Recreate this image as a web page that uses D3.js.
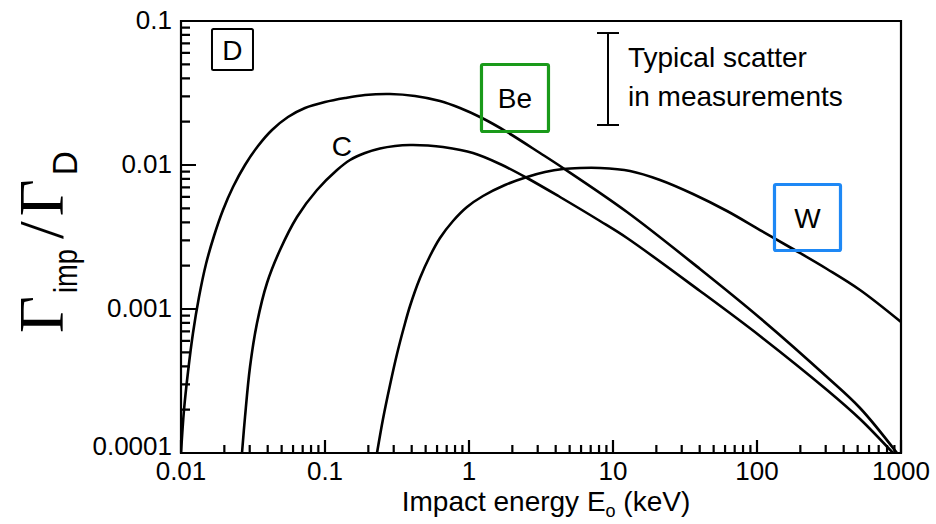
<!DOCTYPE html>
<html><head><meta charset="utf-8">
<script src="https://cdn.jsdelivr.net/npm/d3@7"></script>
<style>body{margin:0;background:#fff}svg{display:block}</style>
</head><body><svg id="c" width="936" height="524"></svg>
<script>
// Impact energy (keV) and yield Γimp/ΓD for each target
const beEnergy = [0.01, 0.010492, 0.011184, 0.012115, 0.013335, 0.014914, 0.016949, 0.019574, 0.022967, 0.027826, 0.034253, 0.04285, 0.055339, 0.07263, 0.1, 0.13768, 0.18957, 0.28274, 0.4217, 0.6289, 0.866, 1.231, 1.836, 3.112, 4.496, 12.51, 40.2, 104.9, 306.3, 519.2, 938];
const beYield  = [1e-4, 1.9888e-4, 3.6517e-4, 6.8129e-4, 1.2115e-3, 2.0535e-3, 3.2132e-3, 4.8697e-3, 7.0346e-3, 0.01, 0.01355, 0.0175, 0.021544, 0.02488, 0.027384, 0.029193, 0.030627, 0.031121, 0.030142, 0.027826, 0.02488, 0.021202, 0.016949, 0.012115, 9.5316e-3, 4.7163e-3, 1.8957e-3, 8.66e-4, 3.3713e-4, 2.0535e-4, 1e-4];
const cEnergy  = [0.02652, 0.02783, 0.03014, 0.03372, 0.03956, 0.0487, 0.06391, 0.08799, 0.1212, 0.1492, 0.18957, 0.24095, 0.30627, 0.3894, 0.51914, 0.6598, 1.066, 1.642, 2.528, 4.284, 8.124, 12.51, 40.2, 104.9, 306.3, 519.2, 880];
const cYield   = [1e-4, 1.778e-4, 3.956e-4, 7.99e-4, 1.516e-3, 2.569e-3, 4.354e-3, 6.706e-3, 9.23e-3, 0.010833, 0.012115, 0.013019, 0.01355, 0.013768, 0.013659, 0.013335, 0.012115, 0.010161, 8.123e-3, 5.995e-3, 4.0843e-3, 3.1121e-3, 1.334e-3, 6.494e-4, 2.738e-4, 1.722e-4, 1e-4];
const wEnergy  = [0.2297, 0.2528, 0.2828, 0.3162, 0.35367, 0.3894, 0.4568, 0.5358, 0.6289, 0.7743, 0.96853, 1.251, 1.778, 2.528, 3.371, 4.496, 5.9, 8.124, 13.12, 21.21, 35.94, 61.89, 104.9, 177.8, 306.3, 519.2, 1000];
const wYield   = [1e-4, 1.7222e-4, 2.9664e-4, 4.8697e-4, 7.4989e-4, 1.0492e-3, 1.6416e-3, 2.3337e-3, 3.1121e-3, 4.0843e-3, 5.1087e-3, 6.0917e-3, 7.263e-3, 8.254e-3, 8.9404e-3, 9.3806e-3, 9.5316e-3, 9.5316e-3, 9.0844e-3, 7.868e-3, 6.2892e-3, 4.7925e-3, 3.5367e-3, 2.6102e-3, 1.8957e-3, 1.355e-3, 8.123e-4];

const xTickValues = [0.01, 0.1, 1, 10, 100, 1000];
const xTickLabels = ["0.01", "0.1", "1", "10", "100", "1000"];
const yTickValues = [0.0001, 0.001, 0.01, 0.1];
const yTickLabels = ["0.0001", "0.001", "0.01", "0.1"];

const svg = d3.select("#c");
const L = 181, R = 901, T = 21, B = 453;
const x = d3.scaleLog().domain([0.01, 1000]).range([L, R]);
const y = d3.scaleLog().domain([0.0001, 0.1]).range([B, T]);
const SANS = "'Liberation Sans', Arial, Helvetica, sans-serif";
const SERIF = "'Liberation Serif', 'Times New Roman', serif";

svg.append("defs").append("clipPath").attr("id", "clip")
  .append("rect").attr("x", L).attr("y", T - 2).attr("width", R - L).attr("height", B - T + 2);

const isPow10 = v => Math.abs(Math.log10(v) - Math.round(Math.log10(v))) < 1e-9;
const minorX = x.ticks().filter(v => !isPow10(v));
const minorY = y.ticks().filter(v => !isPow10(v));

// tick labels
svg.append("g").selectAll("text").data(xTickValues).join("text")
  .attr("x", d => x(d)).attr("y", 480).attr("text-anchor", "middle")
  .style("font-family", SANS).style("font-size", "26px").text((d, i) => xTickLabels[i]);
svg.append("g").selectAll("text").data(yTickValues).join("text")
  .attr("x", L - 9).attr("y", (d, i) => y(d) + (i === 0 ? 2 : 8)).attr("text-anchor", "end")
  .style("font-family", SANS).style("font-size", "26px").text((d, i) => yTickLabels[i]);

// curves
const line = d3.line().x(d => x(d[0])).y(d => y(d[1])).curve(d3.curveCatmullRom.alpha(0.5));
const series = [d3.zip(beEnergy, beYield), d3.zip(cEnergy, cYield), d3.zip(wEnergy, wYield)];
svg.append("g").attr("clip-path", "url(#clip)").selectAll("path").data(series).join("path")
  .attr("d", line).attr("fill", "none").attr("stroke", "#000").attr("stroke-width", 2.6)
  .attr("stroke-linejoin", "round");

// annotation boxes (anchored in data space)
function boxLabel(ex, vy, size, color, sw, label, fontSize) {
  const cx = x(ex), cy = y(vy);
  svg.append("rect").attr("x", cx - size / 2).attr("y", cy - size / 2)
    .attr("width", size).attr("height", size).attr("rx", 1.5)
    .attr("fill", "none").attr("stroke", color).attr("stroke-width", sw);
  svg.append("text").attr("x", cx).attr("y", cy + fontSize * 0.36).attr("text-anchor", "middle")
    .style("font-family", SANS).style("font-size", fontSize + "px").attr("fill", "#000").text(label);
}
boxLabel(0.02278, 0.0634, 41, "#000", 2, "D", 28);
boxLabel(2.086, 0.0292, 67, "#1a9a1a", 3.2, "Be", 28);
boxLabel(224.2, 4.32e-3, 66, "#1e88f5", 3.2, "W", 28);

svg.append("text").attr("x", x(0.1312)).attr("y", y(0.01155)).attr("text-anchor", "middle")
  .style("font-family", SANS).style("font-size", "28px").text("C");

// typical scatter bar
const ebx = x(9.23), ebTop = y(0.0825), ebBot = y(0.01896);
const eb = svg.append("g").attr("stroke", "#000").attr("stroke-width", 2);
eb.append("line").attr("x1", ebx).attr("x2", ebx).attr("y1", ebTop).attr("y2", ebBot);
eb.append("line").attr("x1", ebx - 11).attr("x2", ebx + 11).attr("y1", ebTop).attr("y2", ebTop);
eb.append("line").attr("x1", ebx - 11).attr("x2", ebx + 11).attr("y1", ebBot).attr("y2", ebBot);
svg.append("text").attr("x", x(12.71)).attr("y", y(0.048))
  .style("font-family", SANS).style("font-size", "28px").text("Typical scatter");
svg.append("text").attr("x", x(12.71)).attr("y", y(0.0255))
  .style("font-family", SANS).style("font-size", "28px").text("in measurements");

// x axis title
const xt = svg.append("text").attr("x", 546).attr("y", 511).attr("text-anchor", "middle")
  .style("font-family", SANS).style("font-size", "28px");
xt.append("tspan").text("Impact energy E");
xt.append("tspan").attr("dy", 6).style("font-size", "18px").text("o");
xt.append("tspan").attr("dy", -6).text(" (keV)");

// y axis title
const yt = svg.append("text").attr("transform", "translate(63,333) rotate(-90)");
yt.append("tspan").style("font-family", SERIF).style("font-size", "64px").text("Γ");
yt.append("tspan").attr("dx", 3).attr("dy", 14).style("font-family", SANS).style("font-size", "34px")
  .attr("textLength", 44).attr("lengthAdjust", "spacingAndGlyphs").text("imp");
yt.append("tspan").attr("dx", 10).attr("dy", -14).style("font-family", SERIF).style("font-size", "64px").text("/");
yt.append("tspan").attr("dx", 5).style("font-family", SERIF).style("font-size", "64px").text("Γ");
yt.append("tspan").attr("dx", 4).attr("dy", 14).style("font-family", SANS).style("font-size", "35px")
  .attr("textLength", 24).attr("lengthAdjust", "spacingAndGlyphs").text("D");

// frame
svg.append("path")
  .attr("d", `M${L},${T}H${R}V${B}H${L}Z`)
  .attr("fill", "none").attr("stroke", "#000").attr("stroke-width", 2.2);

// inward ticks built from the scales
const tickPath = (vals, sc, len, horiz) => vals.map(v => horiz
  ? `M${sc(v)},${B}V${B - len}`
  : `M${L},${sc(v)}H${L + len}`).join("");
svg.append("path").attr("d", tickPath(minorX, x, 8, true) + tickPath(xTickValues, x, 13, true)
    + tickPath(minorY, y, 9, false) + tickPath(yTickValues, y, 15, false))
  .attr("fill", "none").attr("stroke", "#000").attr("stroke-width", 2.2);
</script></body></html>
